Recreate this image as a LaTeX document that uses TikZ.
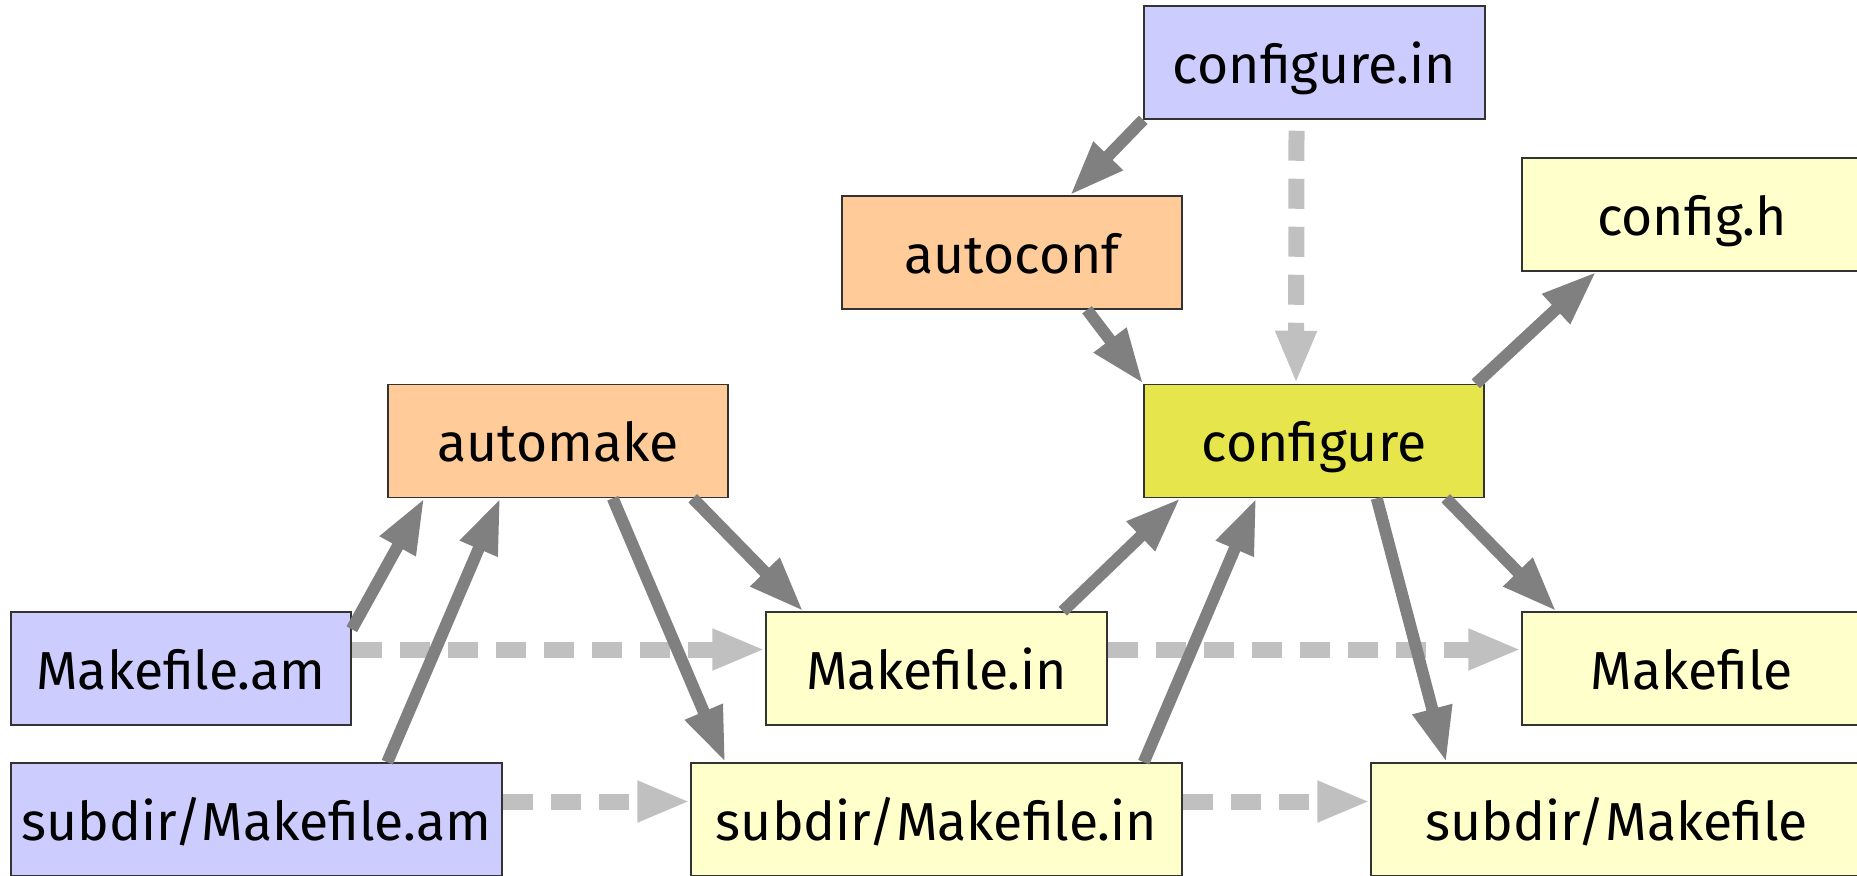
\documentclass[tikz,border=0pt]{standalone}
\usepackage{fontspec}
\setmainfont{Fira Sans}
\usetikzlibrary{arrows.meta}
\definecolor{cblue}{HTML}{CCCCFF}
\definecolor{corange}{HTML}{FFCC99}
\definecolor{cyel}{HTML}{E6E64C}
\definecolor{clight}{HTML}{FFFFCC}
\definecolor{csolid}{HTML}{808080}
\definecolor{cdash}{HTML}{C0C0C0}
\tikzset{
  box/.style={draw=black!80, line width=1.5pt, minimum height=113pt, minimum width=340pt,
    inner sep=0pt, text height=45pt, text depth=4pt, font=\fontsize{53.5}{60}\selectfont},
  wide/.style={minimum width=491pt},
  flow/.style={draw=csolid, line width=12pt, -{Triangle[length=55pt,width=38pt]}},
  copyflow/.style={draw=cdash, line width=16pt, dash pattern=on 30pt off 18pt,
    -{Triangle[length=53pt,width=38pt]}},
}
\begin{document}
\begin{tikzpicture}[x=1pt,y=-1pt]
\useasboundingbox (0,0) rectangle (1857,875);
\clip (0,0) rectangle (1857,875);
\node[box, fill=cblue, minimum width=341pt] (cin) at (1314.5,62.5) {configure.in};
\node[box, fill=corange] (ac) at (1012,252.5) {autoconf};
\node[box, fill=cyel] (cfg) at (1314,441) {configure};
\node[box, fill=clight] (ch) at (1692,214.5) {config.h};
\node[box, fill=corange] (am) at (558,441) {automake};
\node[box, fill=cblue] (mam) at (181,668.5) {Makefile.am};
\node[box, wide, fill=cblue] (smam) at (256.5,819.5) {subdir/Makefile.am};
\node[box, fill=clight, minimum width=341pt] (min) at (936.5,668.5) {Makefile.in};
\node[box, fill=clight] (mk) at (1692,668.5) {Makefile};
\node[box, wide, fill=clight] (smin) at (936.5,819.5) {subdir/Makefile.in};
\node[box, wide, fill=clight] (smk) at (1616.5,819.5) {subdir/Makefile};
% copies (dashed)
\draw[copyflow] ([xshift=-18pt,yshift=-11pt]cin.south) -- ([xshift=-18pt]cfg.north);
\draw[copyflow] ([yshift=19pt]mam.east) -- ([yshift=19pt]min.west);
\draw[copyflow] ([yshift=19pt]min.east) -- ([yshift=19pt]mk.west);
\draw[copyflow] ([yshift=18pt]smam.east) -- ([yshift=18pt]smin.west);
\draw[copyflow] ([yshift=18pt]smin.east) -- ([yshift=18pt]smk.west);
% solid flows
\draw[flow] (cin.south west) -- ([xshift=58pt]ac.north);
\draw[flow] ([xshift=75pt]ac.south) -- (cfg.north west);
\draw[flow] ([xshift=-9pt]cfg.north east) -- ([xshift=75pt]ch.south west);
\draw[flow] ([xshift=-39pt]cfg.south east) -- ([xshift=35pt]mk.north west);
\draw[flow] ([xshift=-108pt]cfg.south east) -- ([xshift=76pt]smk.north west);
\draw[flow] ([xshift=-45pt]min.north east) -- ([xshift=37pt]cfg.south west);
\draw[flow] ([xshift=-39pt]smin.north east) -- ([xshift=113pt]cfg.south west);
\draw[flow] ([xshift=-36pt]am.south east) -- ([xshift=38pt]min.north west);
\draw[flow] ([xshift=-116pt]am.south east) -- ([xshift=35pt]smin.north west);
\draw[flow] ([yshift=-18pt]mam.north east) -- ([xshift=37pt]am.south west);
\draw[flow] ([xshift=377pt]smam.north west) -- ([xshift=113pt]am.south west);
\end{tikzpicture}
\end{document}
